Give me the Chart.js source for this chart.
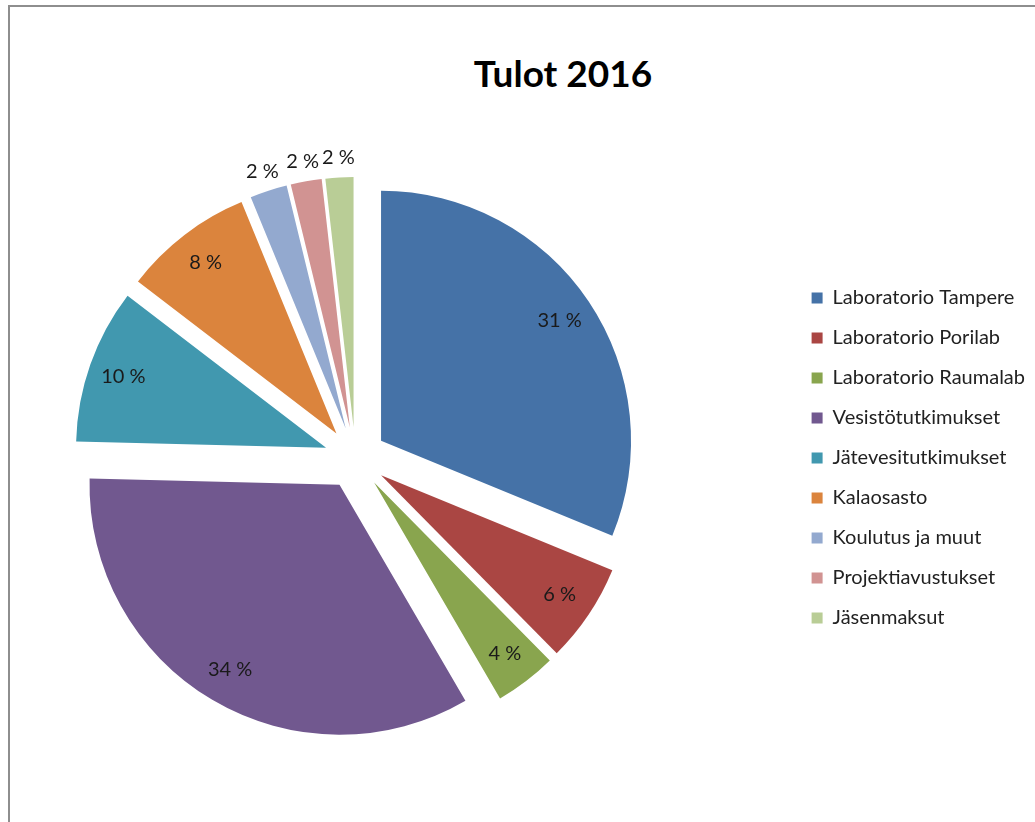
<!DOCTYPE html>
<html>
<head>
<meta charset="utf-8">
<title>Tulot 2016</title>
<script src="https://cdn.jsdelivr.net/npm/chart.js@4.4.1/dist/chart.umd.min.js"></script>
<style>
  html, body { margin: 0; padding: 0; background: #fff; overflow: hidden; width: 1035px; height: 822px; }
  #frame { position: absolute; left: 8px; top: 5px; width: 1100px; height: 900px; border: 2px solid #8e8e8e; }
  #title { position: absolute; left: 363px; top: 51px; width: 400px; margin: 0; text-align: center;
           font: bold 37px Lato, sans-serif; line-height: 44px; color: #000; }
  #wrap { position: absolute; left: -81px; top: 0; }
</style>
</head>
<body>
<div id="frame"></div>
<h1 id="title">Tulot 2016</h1>
<div id="wrap"><canvas id="chart" width="1116" height="822"></canvas></div>
<script>
// Tulot 2016 - income split by unit (%)
const categories = [
    'Laboratorio Tampere',
    'Laboratorio Porilab',
    'Laboratorio Raumalab',
    'Vesistötutkimukset',
    'Jätevesitutkimukset',
    'Kalaosasto',
    'Koulutus ja muut',
    'Projektiavustukset',
    'Jäsenmaksut'
];
const shares = [31.2, 6.4, 4.0, 33.8, 10.0, 8.4, 2.4, 2.0, 1.8];
const sliceColors = ['#4572a7', '#aa4643', '#89a54e', '#71588f', '#4198af', '#db843d', '#93a9cf', '#d19392', '#b9cd96'];

const pieRadius = 250;
const explode = 31; // px every slice is pulled out from the centre
const total = shares.reduce((a, b) => a + b, 0);

// exploded pie: move each arc out along its middle angle
// (the built-in offset option also shrinks and grows thin slices)
const explodeSlices = {
    id: 'explodeSlices',
    afterDatasetUpdate(chart, args) {
        args.meta.data.forEach(arc => {
            const mid = (arc.startAngle + arc.endAngle) / 2;
            arc.x += Math.cos(mid) * explode;
            arc.y += Math.sin(mid) * explode;
        });
    }
};

// percent labels, small slices get theirs outside
const sliceLabels = {
    id: 'sliceLabels',
    afterDatasetsDraw(chart) {
        const ctx = chart.ctx;
        const meta = chart.getDatasetMeta(0);
        ctx.save();
        ctx.font = '20px Lato';
        ctx.fillStyle = '#1a1a1a';
        ctx.textAlign = 'center';
        ctx.textBaseline = 'middle';
        meta.data.forEach((arc, i) => {
            const pct = Math.round(shares[i] / total * 100);
            const mid = (arc.startAngle + arc.endAngle) / 2;
            const dist = pct < 3 ? pieRadius + 20 : pieRadius * 0.86;
            ctx.fillText(pct + ' %', arc.x + Math.cos(mid) * dist, arc.y + Math.sin(mid) * dist);
        });
        ctx.restore();
    }
};

new Chart(document.getElementById('chart'), {
    type: 'pie',
    data: {
        labels: categories,
        datasets: [{
            data: shares,
            backgroundColor: sliceColors,
            borderWidth: 0,
            radius: pieRadius
        }]
    },
    options: {
        responsive: false,
        animation: false,
        layout: {
            padding: { top: 94, bottom: 0, left: 0, right: 0 }
        },
        plugins: {
            legend: {
                position: 'right',
                labels: {
                    boxWidth: 11,
                    boxHeight: 11,
                    padding: 20,
                    color: '#222',
                    font: { family: 'Lato', size: 20 }
                }
            },
            tooltip: { enabled: false }
        }
    },
    plugins: [explodeSlices, sliceLabels]
});
</script>
</body>
</html>
